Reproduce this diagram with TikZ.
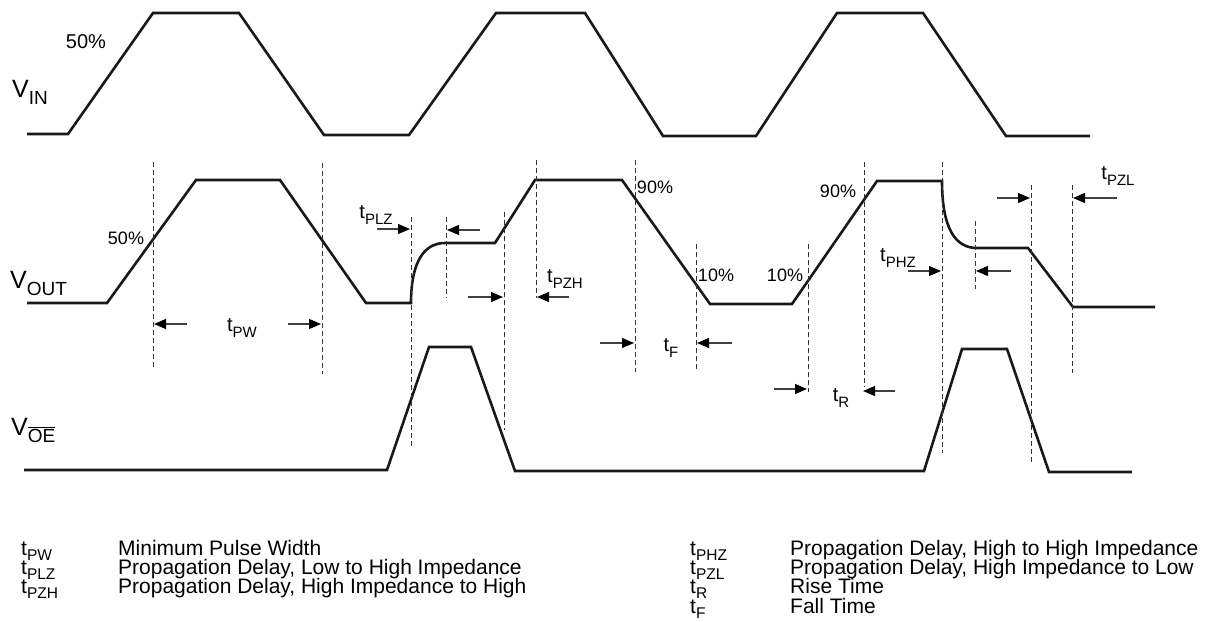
\documentclass[tikz,border=0pt]{standalone}
\usepackage{fontspec}
\setmainfont{Liberation Sans}
\usetikzlibrary{arrows.meta}
\newcommand{\fs}[1]{\fontsize{#1}{#1}\selectfont}
\newcommand{\tlab}[1]{{\fs{20}t\raisebox{-0.28em}{\fs{15}#1}}}
\newcommand{\tleg}[1]{{\fs{21}t\raisebox{-0.25em}{\fs{15.5}#1}}}
\newcommand{\vlab}[1]{{\fs{25}V\raisebox{-0.28em}{\fs{19}#1}}}
\begin{document}
\begin{tikzpicture}[x=1pt,y=-1pt,
  sig/.style={line width=2.6pt, line join=miter, black!90},
  dline/.style={black!80, line width=0.9pt, dash pattern=on 5pt off 3pt},
  arr/.style={black!75, line width=1.2pt, -{Triangle[length=12pt,width=10pt,black]}},
  pct/.style={inner sep=0pt, font=\fs{18}},
  lbl/.style={inner sep=0pt},
  leg/.style={inner sep=0pt, anchor=base west, font=\fs{21}}]
\useasboundingbox (0,0) rectangle (1207,621);

% signals
\draw[sig] (27,134) -- (68,134) -- (153,13) -- (239,13) -- (324,135) -- (409,135)
  -- (496,13) -- (585,13) -- (663,136) -- (756,136) -- (837,13) -- (923,13)
  -- (1006,136) -- (1090,136);
\draw[sig] (27,303) -- (107,303) -- (196,180) -- (280,180) -- (366,303) -- (411,303)
  .. controls (411,262) and (424,243) .. (445,243) -- (495,243) -- (535,180)
  -- (622,180) -- (710,304) -- (792,304) -- (877,181) -- (942,181)
  .. controls (942,228) and (955,248) .. (977,248) -- (1028,248) -- (1073,307) -- (1155,307);
\draw[sig] (24,470) -- (387,470) -- (429,347) -- (471,347) -- (515,471) -- (924,471)
  -- (962,349) -- (1007,349) -- (1049,472) -- (1132,472);

% dashed guides
\foreach \x/\a/\b in {153/162/367, 322/163/374, 411/217/448, 446/217/298,
  504/212/430, 536/160/298, 635/160/372, 696/244/369, 808/244/392,
  864/162/387, 942/162/453, 975/221/289, 1031/185/463, 1072/185/373}
  \draw[dline] (\x,\a) -- (\x,\b);

% signal names
\node[lbl, anchor=west] (vin) at (12,92) {\vlab{IN}};
\node[lbl, anchor=west] (vout) at (10,283) {\vlab{OUT}};
\node[lbl, anchor=west] (voe) at (11,430) {\vlab{$\overline{\hbox{OE}}$}};

% percentage labels
\node[pct, font=\fs{20}] (p1) at (86,42) {50\%};
\node[pct] (p2) at (126,238) {50\%};
\node[pct] (p3) at (655,187) {90\%};
\node[pct] (p4) at (716,275) {10\%};
\node[pct] (p5) at (785,275) {10\%};
\node[pct] (p6) at (838,191) {90\%};

% timing labels
\node[lbl] (tpw) at (242,328) {\tlab{PW}};
\node[lbl] (tplz) at (376,215) {\tlab{PLZ}};
\node[lbl] (tpzh) at (565,279) {\tlab{PZH}};
\node[lbl] (tf) at (671,348) {\tlab{F}};
\node[lbl] (tr) at (841,398) {\tlab{R}};
\node[lbl] (tphz) at (898,258) {\tlab{PHZ}};
\node[lbl] (tpzl) at (1118,176) {\tlab{PZL}};

% arrow coordinates
\coordinate (a1s) at (187,324); \coordinate (a1t) at (154,324);
\coordinate (a2s) at (288,324); \coordinate (a2t) at (321,324);
\coordinate (a3s) at (377,229); \coordinate (a3t) at (410,229);
\coordinate (a4s) at (480,230); \coordinate (a4t) at (447,230);
\coordinate (a5s) at (468,297); \coordinate (a5t) at (503,297);
\coordinate (a6s) at (569,297); \coordinate (a6t) at (537,297);
\coordinate (a7s) at (600,343); \coordinate (a7t) at (634,343);
\coordinate (a8s) at (732,343); \coordinate (a8t) at (697,343);
\coordinate (a9s) at (774,389); \coordinate (a9t) at (807,389);
\coordinate (a10s) at (895,391); \coordinate (a10t) at (863,391);
\coordinate (a11s) at (908,271); \coordinate (a11t) at (941,271);
\coordinate (a12s) at (1011,271); \coordinate (a12t) at (976,271);
\coordinate (a13s) at (997,198); \coordinate (a13t) at (1030,198);
\coordinate (a14s) at (1117,198); \coordinate (a14t) at (1073,198);
\foreach \i in {1,...,14} \draw[arr] (a\i s) -- (a\i t);

% legend
\node[lbl, anchor=base west] (l1) at (21,555) {\tleg{PW}};
\node[leg] (d1) at (118,555) {Minimum Pulse Width};
\node[lbl, anchor=base west] (l2) at (21,574) {\tleg{PLZ}};
\node[leg] (d2) at (118,574) {Propagation Delay, Low to High Impedance};
\node[lbl, anchor=base west] (l3) at (21,593) {\tleg{PZH}};
\node[leg] (d3) at (118,593) {Propagation Delay, High Impedance to High};
\node[lbl, anchor=base west] (l4) at (690,555) {\tleg{PHZ}};
\node[leg] (d4) at (790,555) {Propagation Delay, High to High Impedance};
\node[lbl, anchor=base west] (l5) at (690,574) {\tleg{PZL}};
\node[leg] (d5) at (790,574) {Propagation Delay, High Impedance to Low};
\node[lbl, anchor=base west] (l6) at (690,593) {\tleg{R}};
\node[leg] (d6) at (790,593) {Rise Time};
\node[lbl, anchor=base west] (l7) at (690,613) {\tleg{F}};
\node[leg] (d7) at (790,613) {Fall Time};
\end{tikzpicture}
\end{document}
